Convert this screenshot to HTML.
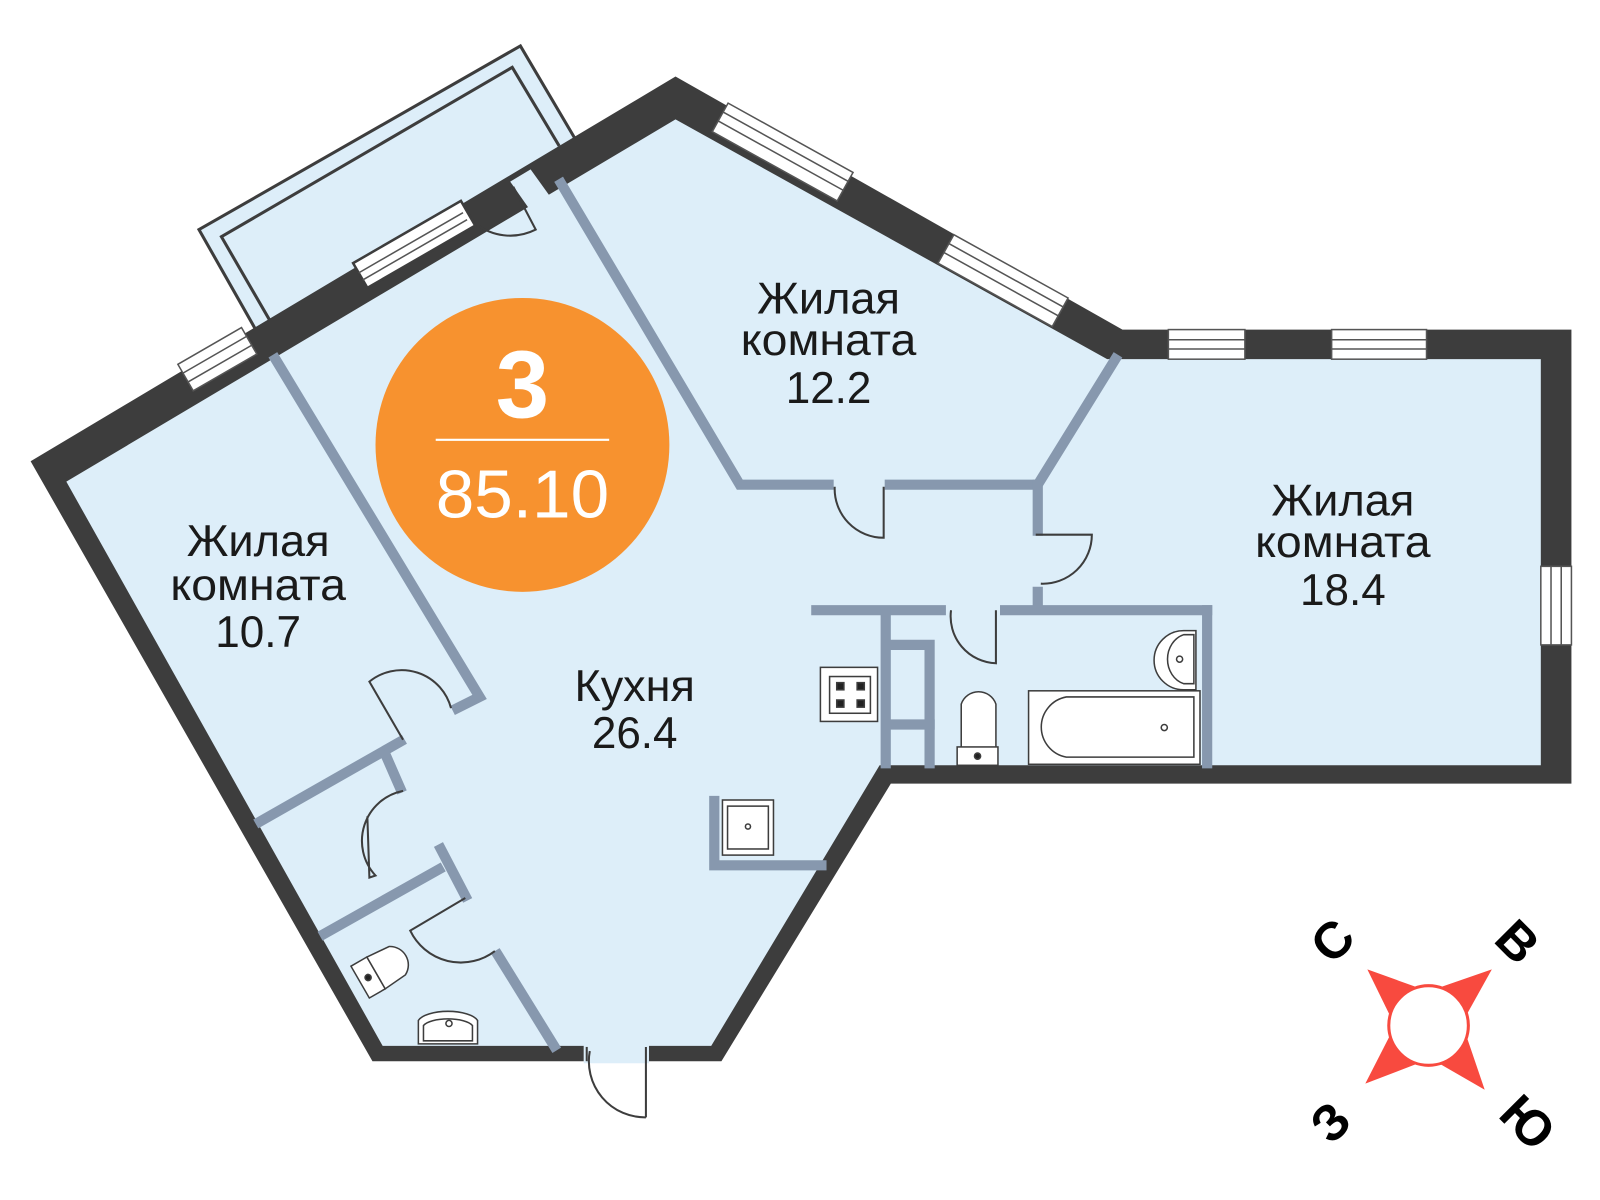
<!DOCTYPE html>
<html><head><meta charset="utf-8"><style>
html,body{margin:0;padding:0;background:#fff;}
svg{display:block;}
text{font-family:"Liberation Sans",sans-serif;}
</style></head><body>
<svg width="1600" height="1200" viewBox="0 0 1568 1176" preserveAspectRatio="none" xmlns="http://www.w3.org/2000/svg">
<polygon points="195,225 510,45 563,135 505,178 250,322" fill="#ddeef9"/>
<polyline points="250,322 195,225 510,45 563,135" fill="none" stroke="#3d3d3d" stroke-width="3"/>
<polyline points="265,315 217,232 502,66 548,143" fill="none" stroke="#3d3d3d" stroke-width="3"/>
<polygon points="30,452 662,75 1100,323 1540,323 1540,768 873,768 707,1040 365,1040" fill="#3d3d3d"/>
<polygon points="65,472 662,117 1085,352 1510,352 1510,750 862,750 697,1025 375,1025" fill="#ddeef9"/>
<rect x="572" y="1024" width="64" height="18" fill="#ddeef9"/>
<line x1="575" y1="1026" x2="575" y2="1040" stroke="#3d3d3d" stroke-width="2"/>
<line x1="633" y1="1026" x2="633" y2="1095" stroke="#3d3d3d" stroke-width="2"/>
<path d="M578,1030 A55,55 0 0 0 633,1095" fill="none" stroke="#3d3d3d" stroke-width="2"/>
<g fill="#fff" stroke="#555" stroke-width="1.5">
<g transform="translate(213,352) rotate(-30)"><rect x="-36" y="-15" width="72" height="30"/><line x1="-36" y1="-5" x2="36" y2="-5"/><line x1="-36" y1="5" x2="36" y2="5"/></g>
<g transform="translate(405,240) rotate(-30)"><rect x="-60" y="-14" width="122" height="28" stroke-width="2.5" stroke="#3d3d3d"/><line x1="-60" y1="-3" x2="58" y2="-3"/><line x1="-60" y1="5" x2="58" y2="5"/></g>
<g transform="translate(767,149) rotate(29)"><rect x="-70" y="-16" width="140" height="32"/><line x1="-70" y1="-6" x2="70" y2="-6"/><line x1="-70" y1="4" x2="70" y2="4"/></g>
<g transform="translate(983,275) rotate(29)"><rect x="-64" y="-16" width="128" height="32"/><line x1="-64" y1="-6" x2="64" y2="-6"/><line x1="-64" y1="4" x2="64" y2="4"/></g>
<rect x="1145" y="323" width="75" height="29"/><line x1="1145" y1="333" x2="1220" y2="333"/><line x1="1145" y1="342" x2="1220" y2="342"/>
<rect x="1305" y="323" width="93" height="29"/><line x1="1305" y1="333" x2="1398" y2="333"/><line x1="1305" y1="342" x2="1398" y2="342"/>
<rect x="1510" y="555" width="30" height="77"/><line x1="1520" y1="555" x2="1520" y2="632"/><line x1="1530" y1="555" x2="1530" y2="632"/>
</g>
<polygon points="500,178 520,166 548,205 528,218" fill="#ddeef9"/>
<path d="M470,222 A55,55 0 0 0 525,225 L503,183" fill="none" stroke="#3d3d3d" stroke-width="2"/>
<g stroke="#8798ae" stroke-width="10" fill="none" stroke-linecap="square">
<polyline points="270,352 470,683 448,694"/>
<polyline points="550,180 725,475 812,475"/>
<polyline points="872,475 1017,475 1093,352"/>
<line x1="1017" y1="475" x2="1017" y2="520"/>
<line x1="1017" y1="580" x2="1017" y2="595"/>
<line x1="800" y1="598" x2="922" y2="598"/>
<line x1="985" y1="598" x2="1183" y2="598"/>
<line x1="1183" y1="598" x2="1183" y2="748"/>
<line x1="868" y1="600" x2="868" y2="748"/>
<polyline points="870,632 911,632 911,748"/>
<line x1="870" y1="710" x2="911" y2="710"/>
<line x1="255" y1="805" x2="392" y2="727"/>
<line x1="378" y1="740" x2="392" y2="772"/>
<line x1="318" y1="915" x2="430" y2="852"/>
<line x1="432" y1="832" x2="456" y2="878"/>
<line x1="488" y1="936" x2="543" y2="1025"/>
<polyline points="700,785 700,848 805,848"/>
</g>
<g fill="none" stroke="#3d3d3d" stroke-width="2">
<path d="M818,477 A48,48 0 0 0 866,527 L866,477"/>
<path d="M1015,524 L1070,524 A48,48 0 0 1 1020,572"/>
<path d="M932,598 A46,46 0 0 0 976,650 L976,598"/>
<path d="M395,725 L362,668 A50,50 0 0 1 442,694"/>
<path d="M395,775 A50,50 0 0 0 368,858 L362,860 L360,800"/>
<path d="M456,880 L402,912 A55,55 0 0 0 485,932"/>
</g>
<g fill="#fff" stroke="#3d3d3d" stroke-width="1.5">
<rect x="804" y="654" width="56" height="53"/><rect x="813" y="663" width="40" height="36"/>
<rect x="820" y="669" width="7" height="7" fill="#222"/><rect x="840" y="669" width="7" height="7" fill="#222"/>
<rect x="820" y="686" width="7" height="7" fill="#222"/><rect x="840" y="686" width="7" height="7" fill="#222"/>
<rect x="708" y="784" width="50" height="54"/><rect x="713" y="790" width="40" height="42"/><circle cx="733" cy="810" r="2.5"/>
<path d="M942,742 L942,690 A18,18 0 0 1 976,690 L976,742 Z"/><rect x="938" y="732" width="40" height="18"/><circle cx="958" cy="741" r="3" fill="#222"/>
<rect x="1008" y="677" width="168" height="72"/><path d="M1045,683 L1170,683 L1170,742 L1045,742 A30,30 0 0 1 1045,683 Z"/><circle cx="1141" cy="713" r="3"/>
<path d="M1172,618 L1160,618 A28,28 0 0 0 1160,676 L1172,676 Z"/><path d="M1170,622 L1160,622 A22,25 0 0 0 1160,670 L1170,670 Z"/><circle cx="1156" cy="646" r="3"/>
<path d="M410,1023 L410,1000 A30,12 0 0 1 468,1000 L468,1023 Z"/><path d="M415,1020 L415,1005 A25,9 0 0 1 463,1005 L463,1020 Z"/><circle cx="440" cy="1003" r="3"/>
<g transform="translate(370,948) rotate(-30)"><rect x="-22" y="-14" width="18" height="36"/><path d="M-4,-14 L20,-12 A18,18 0 0 1 20,20 L-4,22 Z"/><circle cx="-13" cy="4" r="3" fill="#222"/></g>
</g>
<g fill="#1a1a1a" font-size="44" text-anchor="middle">
<text x="812" y="307" textLength="140" lengthAdjust="spacingAndGlyphs">Жилая</text><text x="812" y="348" textLength="172" lengthAdjust="spacingAndGlyphs">комната</text><text x="812" y="395" textLength="84" lengthAdjust="spacingAndGlyphs">12.2</text>
<text x="1316" y="505" textLength="140" lengthAdjust="spacingAndGlyphs">Жилая</text><text x="1316" y="546" textLength="172" lengthAdjust="spacingAndGlyphs">комната</text><text x="1316" y="593" textLength="84" lengthAdjust="spacingAndGlyphs">18.4</text>
<text x="253" y="545" textLength="140" lengthAdjust="spacingAndGlyphs">Жилая</text><text x="253" y="588" textLength="172" lengthAdjust="spacingAndGlyphs">комната</text><text x="253" y="634" textLength="84" lengthAdjust="spacingAndGlyphs">10.7</text>
<text x="622" y="687" textLength="118" lengthAdjust="spacingAndGlyphs">Кухня</text><text x="622" y="733" textLength="84" lengthAdjust="spacingAndGlyphs">26.4</text>
</g>
<circle cx="512" cy="436" r="144" fill="#f7922f"/>
<text x="512" y="409" fill="#fff" font-size="94" font-weight="bold" text-anchor="middle">3</text>
<line x1="427" y1="431" x2="597" y2="431" stroke="#fff" stroke-width="2"/>
<text x="512" y="507" fill="#fff" font-size="66" text-anchor="middle" textLength="170" lengthAdjust="spacingAndGlyphs">85.10</text>
<g fill="#f84a3f">
<polygon points="1340,950 1390,968 1362,995"/>
<polygon points="1462,950 1437,995 1410,968"/>
<polygon points="1338,1062 1362,1015 1390,1042"/>
<polygon points="1455,1068 1410,1042 1437,1015"/>
</g>
<circle cx="1400" cy="1005" r="39" fill="#fff" stroke="#f84a3f" stroke-width="3"/>
<g font-size="50" font-weight="bold" fill="#000" text-anchor="middle">
<text transform="translate(1318,934) rotate(-45)">С</text>
<text transform="translate(1475,935) rotate(45)">В</text>
<text transform="translate(1316,1112) rotate(-45)">З</text>
<text transform="translate(1485,1112) rotate(45)">Ю</text>
</g>
</svg>
</body></html>
